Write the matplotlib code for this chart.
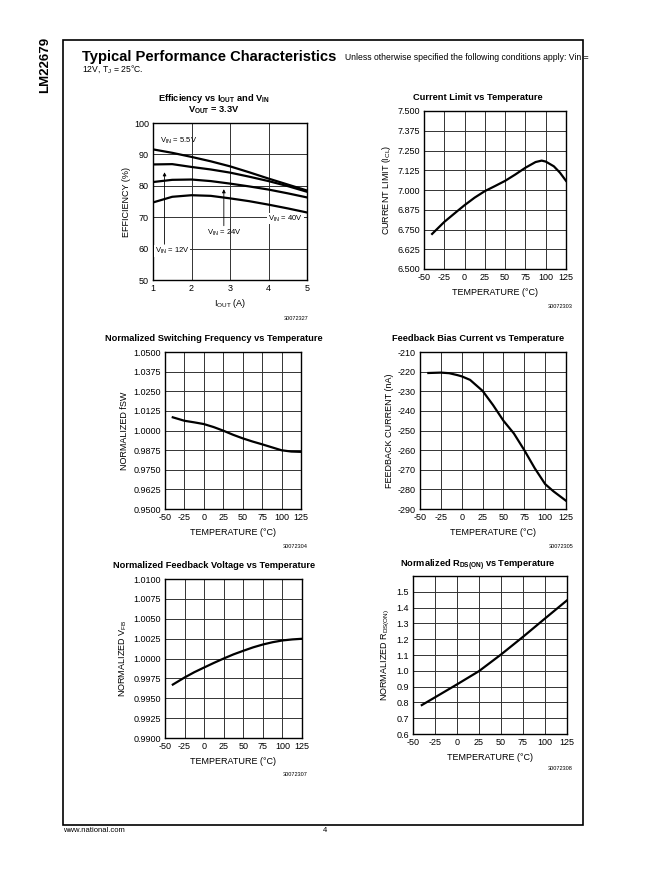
import numpy as np
import matplotlib
matplotlib.use('Agg')
import matplotlib.pyplot as plt

plt.rcParams['font.family'] = ['Liberation Sans', 'DejaVu Sans']
plt.rcParams['mathtext.fontset'] = 'custom'
plt.rcParams['mathtext.rm'] = 'Liberation Sans'
plt.rcParams['mathtext.bf'] = 'Liberation Sans:bold'
plt.rcParams['axes.unicode_minus'] = False

# Efficiency vs IOUT and VIN
iout = [1, 1.5, 2, 2.5, 3, 3.5, 4, 4.5, 5]
eff_5v5 = [91.6, 90.5, 89.2, 87.8, 86.2, 84.3, 82.3, 80.4, 78.5]
eff_12v = [86.8, 86.9, 86.0, 85.2, 84.2, 82.9, 81.5, 79.9, 78.1]
eff_24v = [81.2, 81.9, 82.0, 81.5, 80.7, 79.8, 78.8, 77.6, 76.3]
eff_40v = [74.7, 76.5, 77.0, 76.8, 76.0, 75.1, 74.0, 72.8, 71.5]

# Current limit vs temperature
t_cl = [-40, -25, -10, 0, 12.5, 25, 37.5, 50, 62.5, 75, 87.5, 95, 100, 110, 117.5, 125]
i_cl = [6.722, 6.798, 6.862, 6.904, 6.952, 6.993, 7.025, 7.058, 7.098, 7.141,
        7.177, 7.186, 7.180, 7.150, 7.110, 7.058]

# Normalized switching frequency
t_fsw = [-40, -25, -12.5, 0, 12.5, 25, 37.5, 50, 62.5, 75, 87.5, 100, 112.5, 125]
fsw = [1.0084, 1.0062, 1.0052, 1.0041, 1.0022, 0.9999, 0.9973, 0.9950, 0.9930,
       0.9912, 0.9893, 0.9874, 0.9866, 0.9864]

# Feedback bias current
t_fb = [-40, -25, -15, -5, 0, 10, 25, 37.5, 50, 62.5, 75, 87.5, 100, 110, 125]
i_fb = [-220.7, -220.5, -220.8, -221.8, -222.4, -224.2, -229.8, -237.0, -245.0,
        -251.5, -260.0, -269.2, -277.3, -281.0, -285.8]

# Normalized feedback voltage
t_vfb = [-40, -25, -12.5, 0, 12.5, 25, 37.5, 50, 62.5, 75, 87.5, 100, 112.5, 125]
vfb = [0.99672, 0.99761, 0.99828, 0.99887, 0.99945, 1.0000, 1.00052, 1.00097,
       1.00140, 1.00176, 1.00205, 1.00227, 1.00240, 1.00248]

# Normalized RDS(ON)
t_rds = [-40, -25, 0, 25, 50, 75, 100, 125]
rds = [0.783, 0.832, 0.914, 0.998, 1.103, 1.215, 1.331, 1.446]

temp_ticks = [-50, -25, 0, 25, 50, 75, 100, 125]

W, H = 651, 872
fig = plt.figure(figsize=(W / 100, H / 100), dpi=100)


def px(x, y):
    return x / W, 1 - y / H


def ax_at(l, t, r, b):
    return fig.add_axes([l / W, 1 - b / H, (r - l) / W, (b - t) / H])


def style(ax):
    ax.grid(True, color='#333333', lw=0.7)
    ax.tick_params(length=0, labelsize=6.5, pad=3)
    for s in ax.spines.values():
        s.set_linewidth(1.0)
        s.set_color('black')


def title_at(x, y, s):
    fig.text(*px(x, y), s, fontsize=fs_title, fontweight='bold', ha='center', va='center')


fs_lab = 6.5
fs_title = 6.7
fs_code = 4

# page frame and header
fig.patches.append(plt.Rectangle(px(63, 825), 520 / W, 785 / H, fill=False,
                                 lw=1.2, ec='black', transform=fig.transFigure))
fig.text(*px(45, 65), 'LM22679', rotation=90, ha='center', va='center',
         fontsize=9.5, fontweight='bold')
fig.text(*px(82, 57), 'Typical Performance Characteristics', fontsize=10.6,
         fontweight='bold', va='center')
fig.text(*px(345, 58), 'Unless otherwise specified the following conditions apply: Vin =',
         fontsize=6.2, va='center')
fig.text(*px(82, 69), r'12V, T$_\mathrm{J}$ = 25°C.', fontsize=6.2, va='center')
fig.text(*px(63, 830), 'www.national.com', fontsize=5.5, va='center')
fig.text(*px(325, 830), '4', fontsize=5.5, va='center', ha='center')

# 1: efficiency
ax = ax_at(153, 123, 307, 280)
for e in [eff_5v5, eff_12v, eff_24v, eff_40v]:
    ax.plot(iout, e, color='black', lw=1.6)
ax.set_xlim(1, 5)
ax.set_ylim(50, 100)
ax.set_xticks([1, 2, 3, 4, 5])
ax.set_yticks(range(50, 101, 10))
style(ax)
ax.set_xlabel(r'I$_\mathrm{OUT}$ (A)', fontsize=fs_lab, labelpad=3)
ax.set_ylabel('EFFICIENCY (%)', fontsize=fs_lab, labelpad=2)
ax.text(1.17, 94.2, r'V$_\mathrm{IN}$ = 5.5V', fontsize=5.5, va='center')
ax.text(4.9, 69.6, r'V$_\mathrm{IN}$ = 40V', fontsize=5.5, va='center', ha='right',
        bbox=dict(fc='white', ec='none', pad=0.5))
ax.text(2.4, 65.0, r'V$_\mathrm{IN}$ = 24V', fontsize=5.5, va='center')
ax.text(1.04, 59.3, r'V$_\mathrm{IN}$ = 12V', fontsize=5.5, va='center',
        bbox=dict(fc='white', ec='none', pad=0.5))
ax.annotate('', xy=(1.3, 85.2), xytext=(1.3, 60.5),
            arrowprops=dict(arrowstyle='-|>', color='black', lw=0.6, mutation_scale=5))
ax.annotate('', xy=(2.84, 79.8), xytext=(2.84, 66.4),
            arrowprops=dict(arrowstyle='-|>', color='black', lw=0.6, mutation_scale=5))
fig.text(*px(214, 101), r'Efficiency vs I$_\mathbf{OUT}$ and V$_\mathbf{IN}$',
         fontsize=fs_title, fontweight='bold', ha='center', va='baseline')
fig.text(*px(214, 112), r'V$_\mathbf{OUT}$ = 3.3V', fontsize=fs_title,
         fontweight='bold', ha='center', va='baseline')
fig.text(*px(308, 318), '30072327', fontsize=fs_code, ha='right', va='center')

# 2: current limit
ax = ax_at(424, 111, 566, 269)
ax.plot(t_cl, i_cl, color='black', lw=1.6)
ax.set_xlim(-50, 125)
ax.set_ylim(6.5, 7.5)
ax.set_xticks(temp_ticks)
ax.set_yticks(np.arange(6.5, 7.501, 0.125))
ax.set_yticklabels(['%.3f' % v for v in np.arange(6.5, 7.501, 0.125)])
style(ax)
ax.set_xlabel('TEMPERATURE (°C)', fontsize=fs_lab, labelpad=4)
ax.set_ylabel(r'CURRENT LIMIT (I$_\mathrm{CL}$)', fontsize=fs_lab, labelpad=3)
title_at(478, 98, 'Current Limit vs Temperature')
fig.text(*px(573, 306), '30072303', fontsize=fs_code, ha='right', va='center')

# 3: switching frequency
ax = ax_at(165, 352, 301, 509)
ax.plot(t_fsw, fsw, color='black', lw=1.6)
ax.set_xlim(-50, 125)
ax.set_ylim(0.95, 1.05)
ax.set_xticks(temp_ticks)
yt = np.arange(0.95, 1.0501, 0.0125)
ax.set_yticks(yt)
ax.set_yticklabels(['%.4f' % v for v in yt])
style(ax)
ax.set_xlabel('TEMPERATURE (°C)', fontsize=fs_lab, labelpad=4)
ax.set_ylabel('NORMALIZED fSW', fontsize=fs_lab, labelpad=3)
title_at(214, 338, 'Normalized Switching Frequency vs Temperature')
fig.text(*px(308, 546), '30072304', fontsize=fs_code, ha='right', va='center')

# 4: feedback bias current
ax = ax_at(420, 352, 566, 509)
ax.plot(t_fb, i_fb, color='black', lw=1.6)
ax.set_xlim(-50, 125)
ax.set_ylim(-290, -210)
ax.set_xticks(temp_ticks)
ax.set_yticks(range(-290, -209, 10))
style(ax)
ax.set_xlabel('TEMPERATURE (°C)', fontsize=fs_lab, labelpad=4)
ax.set_ylabel('FEEDBACK CURRENT (nA)', fontsize=fs_lab, labelpad=3)
title_at(478, 338, 'Feedback Bias Current vs Temperature')
fig.text(*px(573, 546), '30072305', fontsize=fs_code, ha='right', va='center')

# 5: feedback voltage
ax = ax_at(165, 579, 302, 738)
ax.plot(t_vfb, vfb, color='black', lw=1.6)
ax.set_xlim(-50, 125)
ax.set_ylim(0.99, 1.01)
ax.set_xticks(temp_ticks)
yt = np.arange(0.99, 1.01001, 0.0025)
ax.set_yticks(yt)
ax.set_yticklabels(['%.4f' % v for v in yt])
style(ax)
ax.set_xlabel('TEMPERATURE (°C)', fontsize=fs_lab, labelpad=4)
ax.set_ylabel(r'NORMALIZED V$_\mathrm{FB}$', fontsize=fs_lab, labelpad=3)
title_at(214, 565, 'Normalized Feedback Voltage vs Temperature')
fig.text(*px(308, 774), '30072307', fontsize=fs_code, ha='right', va='center')

# 6: RDS(ON)
ax = ax_at(413, 576, 567, 734)
ax.plot(t_rds, rds, color='black', lw=1.6)
ax.set_xlim(-50, 125)
ax.set_ylim(0.6, 1.6)
ax.set_xticks(temp_ticks)
yt = np.arange(0.6, 1.601, 0.1)
ax.set_yticks(yt)
ax.set_yticklabels(['%.1f' % v for v in yt[:-1]] + [''])
style(ax)
ax.set_xlabel('TEMPERATURE (°C)', fontsize=fs_lab, labelpad=4)
ax.set_ylabel(r'NORMALIZED R$_\mathrm{DS(ON)}$', fontsize=fs_lab, labelpad=3)
title_at(478, 565, r'Normalized R$_\mathbf{DS(ON)}$ vs Temperature')
fig.text(*px(573, 768), '30072308', fontsize=fs_code, ha='right', va='center')

fig.savefig('out.png', dpi=100)
